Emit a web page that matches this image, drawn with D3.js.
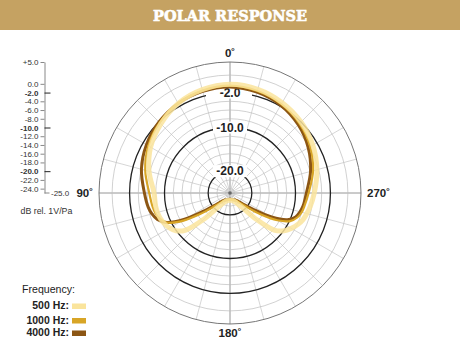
<!DOCTYPE html>
<html>
<head>
<meta charset="utf-8">
<script src="https://cdn.jsdelivr.net/npm/d3@7"></script>
<style>
  body { margin: 0; background: #fff; }
  svg { display: block; font-family: "Liberation Sans", Arial, sans-serif; }
</style>
</head>
<body>
<svg id="chart" width="460" height="354"></svg>
<script>
// angle (deg, counter-clockwise from front, 90 = left) and response (dB) per frequency
const angles = [0, 15, 30, 45, 60, 75, 90, 100, 105, 110, 115, 120, 125, 130, 135, 140, 155, 170,
  180, 190, 205, 220, 225, 230, 235, 240, 245, 250, 255, 260, 270, 285, 300, 315, 330, 345]
const db500 = [-0.1, -0.5, -1.3, -2.6, -4.0, -5.8, -7.6, -7.7, -7.8, -8.0, -8.4, -9.0, -9.9, -11.8, -16.5, -20.8, -23.0, -23.3,
  -23.3, -23.3, -23.0, -20.8, -16.5, -11.8, -9.9, -8.8, -7.9, -7.2, -6.8, -6.4, -5.7, -4.4, -3.1, -2.0, -1.1, -0.4]
const db1000 = [-0.4, -0.7, -1.3, -2.2, -3.4, -4.9, -6.5, -7.0, -7.3, -7.8, -9.0, -12.0, -16.5, -20.0, -21.8, -22.6, -23.2, -23.4,
  -23.5, -23.4, -23.2, -22.6, -21.8, -20.0, -16.5, -12.5, -9.8, -8.6, -8.0, -7.7, -7.0, -5.3, -3.8, -2.5, -1.5, -0.8]
const db4000 = [-0.7, -0.9, -1.3, -2.0, -2.9, -4.0, -5.4, -6.0, -6.5, -7.3, -9.0, -13.0, -18.0, -21.0, -22.2, -22.8, -23.3, -23.5,
  -23.6, -23.5, -23.3, -22.8, -22.2, -21.0, -18.5, -14.0, -10.5, -9.0, -8.4, -8.0, -7.5, -5.9, -4.3, -2.9, -1.8, -1.1]

const seriesNames = ["500 Hz:", "1000 Hz:", "4000 Hz:"]
const seriesColors = ["#fae49c", "#d8a526", "#8c5614"]

const axisTicks = [5, 0, -2, -4, -6, -8, -10, -12, -14, -16, -18, -20, -22, -24]
const boldTicks = [-2, -10, -20]
const gridRings = [-24, -22, -20, -18, -16, -14, -12, -10, -8, -6, -4, -2, 2]
const spokeAngles = d3.range(0, 360, 15)
const angleLabels = [0, 90, 180, 270]

const svg = d3.select("#chart")
const cx = 230, cy = 193, R = 131

// title band
svg.append("rect").attr("x", 0).attr("y", 0).attr("width", 460).attr("height", 30).attr("fill", "#c5a262")
svg.append("text")
  .attr("x", 230).attr("y", 20.5)
  .attr("text-anchor", "middle")
  .attr("fill", "#fff")
  .attr("stroke", "#fff")
  .attr("stroke-width", 0.6)
  .attr("font-family", "'DejaVu Serif', serif")
  .attr("font-weight", "bold")
  .attr("font-size", 14.5)
  .attr("textLength", 154)
  .attr("lengthAdjust", "spacingAndGlyphs")
  .text("POLAR RESPONSE")

const r = d3.scaleLinear().domain([-25, 5]).range([0, R])

const g = svg.append("g").attr("transform", `translate(${cx},${cy})`)

// spokes
g.selectAll(".spoke")
  .data(spokeAngles)
  .join("line")
  .attr("x1", 0).attr("y1", 0)
  .attr("x2", d => -R * Math.sin(d * Math.PI / 180))
  .attr("y2", d => -R * Math.cos(d * Math.PI / 180))
  .attr("stroke", d => d % 90 === 0 ? "#8a8a8a" : "#c4c4c4")
  .attr("stroke-width", d => d % 90 === 0 ? 0.9 : 0.7)

// rings
g.selectAll(".ring")
  .data(gridRings)
  .join("circle")
  .attr("r", d => r(d))
  .attr("fill", "none")
  .attr("stroke", d => boldTicks.includes(d) ? "#222" : "#bdbdbd")
  .attr("stroke-width", d => boldTicks.includes(d) ? 1.3 : 0.7)

g.append("circle").attr("r", r(5)).attr("fill", "none").attr("stroke", "#777").attr("stroke-width", 1)
g.append("circle").attr("r", 1.8).attr("fill", "#666")

// ring labels
const ringLab = g.selectAll(".ringlab")
  .data(boldTicks)
  .join("g")
  .attr("transform", d => `translate(0,${-r(d)})`)
ringLab.append("rect")
  .attr("x", d => d === -2 ? -24 : -17)
  .attr("width", d => d === -2 ? 46 : 34)
  .attr("y", -6).attr("height", 12)
  .attr("fill", "#fff")
ringLab.append("text")
  .attr("text-anchor", "middle")
  .attr("dy", "0.36em")
  .attr("font-size", 12)
  .attr("font-weight", "bold")
  .attr("fill", "#222")
  .text(d => d.toFixed(1))

// response curves
const line = d3.lineRadial()
  .angle(d => -d.a * Math.PI / 180)
  .radius(d => r(d.v))
  .curve(d3.curveCatmullRomClosed.alpha(0.5))

const series = [db4000, db1000, db500].map(vals => angles.map((a, i) => ({ a: a, v: vals[i] })))
const widths = [3, 2.2, 5]
const colors = [seriesColors[2], seriesColors[1], seriesColors[0]]
g.selectAll(".curve")
  .data(series)
  .join("path")
  .attr("d", line)
  .attr("fill", "none")
  .attr("stroke", (d, i) => colors[i])
  .attr("stroke-width", (d, i) => widths[i])
  .attr("stroke-linejoin", "round")
  .attr("opacity", (d, i) => i === 2 ? 0.85 : 1)

// angle labels
g.selectAll(".anglab")
  .data(angleLabels)
  .join("text")
  .attr("x", d => d === 90 ? -(R + 6) : d === 270 ? R + 6 : 0)
  .attr("y", d => d === 0 ? -(R + 5) : d === 180 ? R + 13 : 4)
  .attr("text-anchor", d => d === 90 ? "end" : d === 270 ? "start" : "middle")
  .attr("font-size", 11.5)
  .attr("font-weight", "bold")
  .attr("fill", "#222")
  .text(d => d + "˚")

// left dB axis
const y = d3.scaleLinear().domain([-25, 5]).range([cy, cy - R])
const axisG = svg.append("g")
  .attr("transform", "translate(44.5,0)")
  .call(d3.axisLeft(y).tickValues(axisTicks).tickSize(4).tickSizeOuter(0).tickPadding(2)
    .tickFormat(d => (d > 0 ? "+" : "") + d.toFixed(1)))
axisG.select(".domain").attr("stroke", "#888")
axisG.selectAll(".tick line").attr("stroke", "#888")
axisG.selectAll(".tick text")
  .attr("font-size", 8)
  .attr("font-family", "'Liberation Sans', Arial, sans-serif")
  .attr("fill", "#333")
  .attr("font-weight", d => boldTicks.includes(d) ? "bold" : "normal")
axisG.selectAll(".tick")
  .filter(d => boldTicks.includes(d))
  .select("line")
  .attr("x2", 6)
  .attr("stroke", "#222")
axisG.append("line").attr("x1", 0).attr("x2", 5).attr("y1", y(-25)).attr("y2", y(-25)).attr("stroke", "#888")
axisG.append("text")
  .attr("x", 6.5).attr("y", y(-25)).attr("dy", "0.32em")
  .attr("text-anchor", "start")
  .attr("font-family", "'Liberation Sans', Arial, sans-serif")
  .attr("font-size", 8).attr("fill", "#333")
  .text((-25).toFixed(1))

svg.append("text").attr("x", 20.5).attr("y", 213.5)
  .attr("font-size", 8.8).attr("fill", "#333")
  .text("dB rel. 1V/Pa")

// legend
svg.append("text").attr("x", 22).attr("y", 293)
  .attr("font-size", 10.6).attr("fill", "#222")
  .text("Frequency:")
const legendRows = [309, 323.5, 336]
const leg = svg.selectAll(".leg")
  .data(seriesNames)
  .join("g")
  .attr("transform", (d, i) => `translate(0,${legendRows[i]})`)
leg.append("text")
  .attr("x", 69).attr("text-anchor", "end")
  .attr("font-size", 10.5).attr("font-weight", "bold").attr("fill", "#222")
  .text(d => d)
leg.append("rect")
  .attr("x", 72).attr("y", -5.5).attr("width", 14).attr("height", 5.5)
  .attr("fill", (d, i) => seriesColors[i])
</script>
</body>
</html>
